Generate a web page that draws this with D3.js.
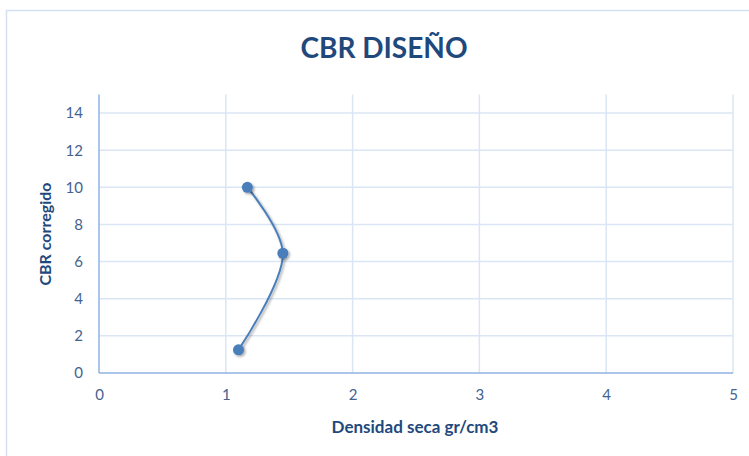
<!DOCTYPE html>
<html>
<head>
<meta charset="utf-8">
<script src="https://cdn.jsdelivr.net/npm/d3@7"></script>
<style>
  html, body { margin: 0; padding: 0; background: #fff; }
  svg { display: block; }
</style>
</head>
<body>
<svg id="chart" width="749" height="456"></svg>
<script>
// Ensayo CBR: densidad seca vs CBR corregido
const densidad = [1.17, 1.45, 1.10];
const cbr = [10.0, 6.45, 1.25];
const xTicks = [0, 1, 2, 3, 4, 5];
const yTicks = [0, 2, 4, 6, 8, 10, 12, 14];

const titulo = "CBR DISEÑO";
const tituloX = "Densidad seca gr/cm3";
const tituloY = "CBR corregido";

const W = 749, H = 456;
const plot = { left: 99, right: 733, top: 94.5, bottom: 373 };
const font = "Lato, 'Open Sans', sans-serif";
const textColor = "#44628f";
const titleColor = "#1f497d";

const svg = d3.select("#chart");

const defs = svg.append("defs");
const sh = defs.append("filter").attr("id", "sombra")
  .attr("x", "-50%").attr("y", "-50%").attr("width", "200%").attr("height", "200%");
sh.append("feDropShadow").attr("dx", 1.5).attr("dy", 1.5)
  .attr("stdDeviation", 1.2).attr("flood-color", "#000").attr("flood-opacity", 0.35);

// chart frame
svg.append("rect")
  .attr("x", 6.5).attr("y", 10.5)
  .attr("width", W).attr("height", H)
  .attr("fill", "#fff").attr("stroke", "#d3e1f3").attr("stroke-width", 1.5);

const x = d3.scaleLinear().domain([0, 5]).range([plot.left, plot.right]);
const y = d3.scaleLinear().domain([0, 15]).range([plot.bottom, plot.top]);

// gridlines
const grid = svg.append("g");
grid.selectAll(".gy").data(yTicks.filter(d => d > 0)).join("line")
  .attr("x1", plot.left).attr("x2", plot.right)
  .attr("y1", d => y(d)).attr("y2", d => y(d))
  .attr("stroke", "#dbe6f5").attr("stroke-width", 1.5);
grid.selectAll(".gx").data(xTicks.filter(d => d > 0)).join("line")
  .attr("x1", d => x(d)).attr("x2", d => x(d))
  .attr("y1", plot.top).attr("y2", plot.bottom)
  .attr("stroke", "#dbe6f5").attr("stroke-width", 1.5);

// axes
const xAxis = svg.append("g")
  .attr("transform", `translate(0,${plot.bottom})`)
  .call(d3.axisBottom(x).tickValues(xTicks).tickSize(0).tickPadding(16).tickFormat(d3.format("d")));
const yAxis = svg.append("g")
  .attr("transform", `translate(${plot.left},0)`)
  .call(d3.axisLeft(y).tickValues(yTicks).tickSize(0).tickPadding(16).tickFormat(d3.format("d")));

[xAxis, yAxis].forEach(a => {
  a.select(".domain").remove();
  a.selectAll("text")
    .attr("fill", textColor)
    .style("font-family", font)
    .style("font-size", "15px");
});
xAxis.selectAll("text").attr("dy", "0.71em");

svg.append("line")
  .attr("x1", plot.left).attr("x2", plot.right)
  .attr("y1", plot.bottom).attr("y2", plot.bottom)
  .attr("stroke", "#8fb3e3").attr("stroke-width", 1.5);
svg.append("line")
  .attr("x1", plot.left).attr("x2", plot.left)
  .attr("y1", plot.top).attr("y2", plot.bottom)
  .attr("stroke", "#8fb3e3").attr("stroke-width", 1.5);

// smoothed series line
const datos = densidad.map((d, i) => ({ x: d, y: cbr[i] }));
const linea = d3.line()
  .x(d => x(d.x)).y(d => y(d.y))
  .curve(d3.curveCatmullRom.alpha(0.5));

svg.append("path")
  .datum(datos)
  .attr("d", linea)
  .attr("fill", "none")
  .attr("stroke", "#4a7ebb")
  .attr("stroke-width", 2)
  .attr("filter", "url(#sombra)");

svg.selectAll(".punto").data(datos).join("circle")
  .attr("cx", d => x(d.x)).attr("cy", d => y(d.y))
  .attr("r", 5.5)
  .attr("fill", "#4a7ebb")
  .attr("filter", "url(#sombra)");

// titles
svg.append("text")
  .attr("x", 384).attr("y", 58)
  .attr("text-anchor", "middle")
  .attr("fill", titleColor)
  .style("font-family", font)
  .style("font-weight", "bold")
  .style("font-size", "28px")
  .text(titulo);

svg.append("text")
  .attr("x", 415).attr("y", 433)
  .attr("text-anchor", "middle")
  .attr("fill", titleColor)
  .style("font-family", font)
  .style("font-weight", "bold")
  .style("font-size", "17px")
  .text(tituloX);

svg.append("text")
  .attr("transform", "translate(51,234) rotate(-90)")
  .attr("text-anchor", "middle")
  .attr("fill", titleColor)
  .style("font-family", font)
  .style("font-weight", "bold")
  .style("font-size", "16px")
  .text(tituloY);
</script>
</body>
</html>
